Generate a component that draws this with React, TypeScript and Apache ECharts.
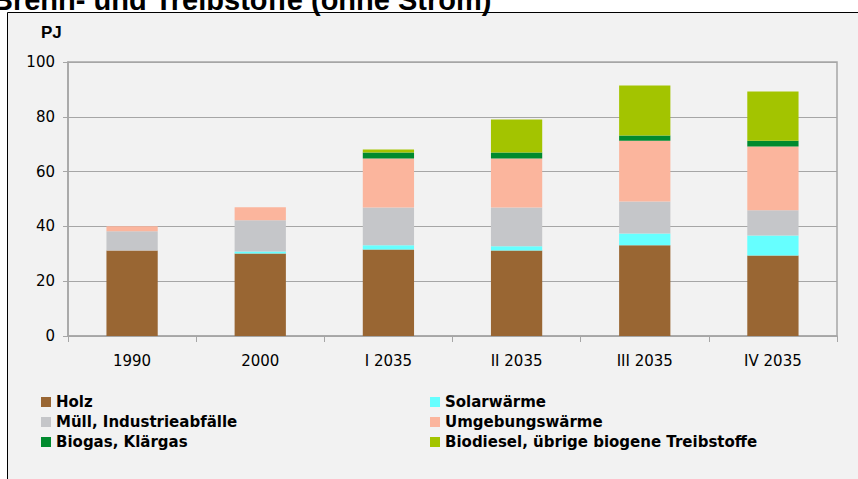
import React, { useEffect, useRef } from "react";
import * as echarts from "echarts";

const categories = ["1990", "2000", "I 2035", "II 2035", "III 2035", "IV 2035"];
const holz = [31.2, 30.1, 31.6, 31.2, 33.1, 29.4];
const solar = [0, 0.7, 1.5, 1.6, 4.3, 7.3];
const muell = [7.0, 11.4, 13.8, 14.1, 11.7, 9.2];
const umgebung = [1.9, 4.8, 17.9, 17.9, 22.2, 23.3];
const biogas = [0, 0, 2.2, 2.2, 1.9, 2.1];
const biodiesel = [0, 0, 1.1, 12.0, 18.2, 17.9];

const seriesNames = [
  "Holz",
  "Solarwärme",
  "Müll, Industrieabfälle",
  "Umgebungswärme",
  "Biogas, Klärgas",
  "Biodiesel, übrige biogene Treibstoffe",
];
const seriesData = [holz, solar, muell, umgebung, biogas, biodiesel];
const colors = ["#996633", "#66FFFF", "#C5C6C9", "#FBB59D", "#008A2E", "#A3C400"];

const yTicks = [0, 20, 40, 60, 80, 100];

export default function App() {
  const ref = useRef<HTMLDivElement>(null);
  useEffect(() => {
    if (!ref.current) return;
    const chart = echarts.init(ref.current, null, { renderer: "svg" });
    const axisFont = { fontFamily: "DejaVu Sans", fontSize: 15, color: "#000" };
    const legendText = {
      fontFamily: "DejaVu Sans",
      fontSize: 15,
      fontWeight: "bold" as const,
      color: "#000",
      lineHeight: 15,
    };
    chart.setOption({
      animation: false,
      backgroundColor: "#ffffff",
      graphic: [
        {
          type: "rect",
          z: -10,
          shape: { x: 7.5, y: 12.5, width: 870, height: 490 },
          style: { fill: "#F2F2F2", stroke: "#000", lineWidth: 1 },
        },
        {
          type: "text",
          z: 10,
          x: -8,
          y: 0,
          style: {
            text: "Brenn- und Treibstoffe (ohne Strom)",
            font: "bold 29px 'Liberation Sans', Arial, sans-serif",
            fill: "#000",
            verticalAlign: "middle",
            align: "left",
          },
        },
        {
          type: "text",
          z: 10,
          x: 41,
          y: 32,
          style: {
            text: "PJ",
            font: "bold 17px 'Liberation Sans', Arial, sans-serif",
            fill: "#000",
            verticalAlign: "middle",
            align: "left",
          },
        },
      ],
      grid: {
        left: 68,
        top: 62,
        right: 21,
        bottom: 143,
        show: true,
        borderColor: "#A6A6A6",
        borderWidth: 1.5,
        backgroundColor: "transparent",
      },
      legend: [
        {
          orient: "vertical",
          left: 36,
          top: 389.5,
          itemWidth: 10,
          itemHeight: 10,
          itemGap: 5,
          icon: "rect",
          selectedMode: false,
          textStyle: legendText,
          data: [seriesNames[0], seriesNames[2], seriesNames[4]],
        },
        {
          orient: "vertical",
          left: 425,
          top: 389.5,
          itemWidth: 10,
          itemHeight: 10,
          itemGap: 5,
          icon: "rect",
          selectedMode: false,
          textStyle: legendText,
          data: [seriesNames[1], seriesNames[3], seriesNames[5]],
        },
      ],
      xAxis: {
        type: "category",
        data: categories,
        boundaryGap: true,
        axisLine: { show: true, lineStyle: { color: "#A6A6A6", width: 1.5 } },
        axisTick: { show: true, length: 6, lineStyle: { color: "#A6A6A6", width: 1 } },
        axisLabel: { ...axisFont, margin: 17 },
        splitLine: { show: false },
      },
      yAxis: {
        type: "value",
        min: yTicks[0],
        max: yTicks[yTicks.length - 1],
        interval: 20,
        axisLine: { show: true, lineStyle: { color: "#A6A6A6", width: 1.5 } },
        axisTick: { show: true, length: 5, lineStyle: { color: "#A6A6A6", width: 1 } },
        axisLabel: { ...axisFont, margin: 13 },
        splitLine: { show: true, lineStyle: { color: "#A6A6A6", width: 1 } },
      },
      series: seriesNames.map((name, i) => ({
        name,
        type: "bar",
        stack: "total",
        barWidth: "40%",
        itemStyle: { color: colors[i] },
        data: seriesData[i],
      })),
    });
    return () => chart.dispose();
  }, []);
  return (
    <div
      ref={ref}
      style={{ position: "fixed", left: 0, top: 0, width: 858, height: 479 }}
    />
  );
}
